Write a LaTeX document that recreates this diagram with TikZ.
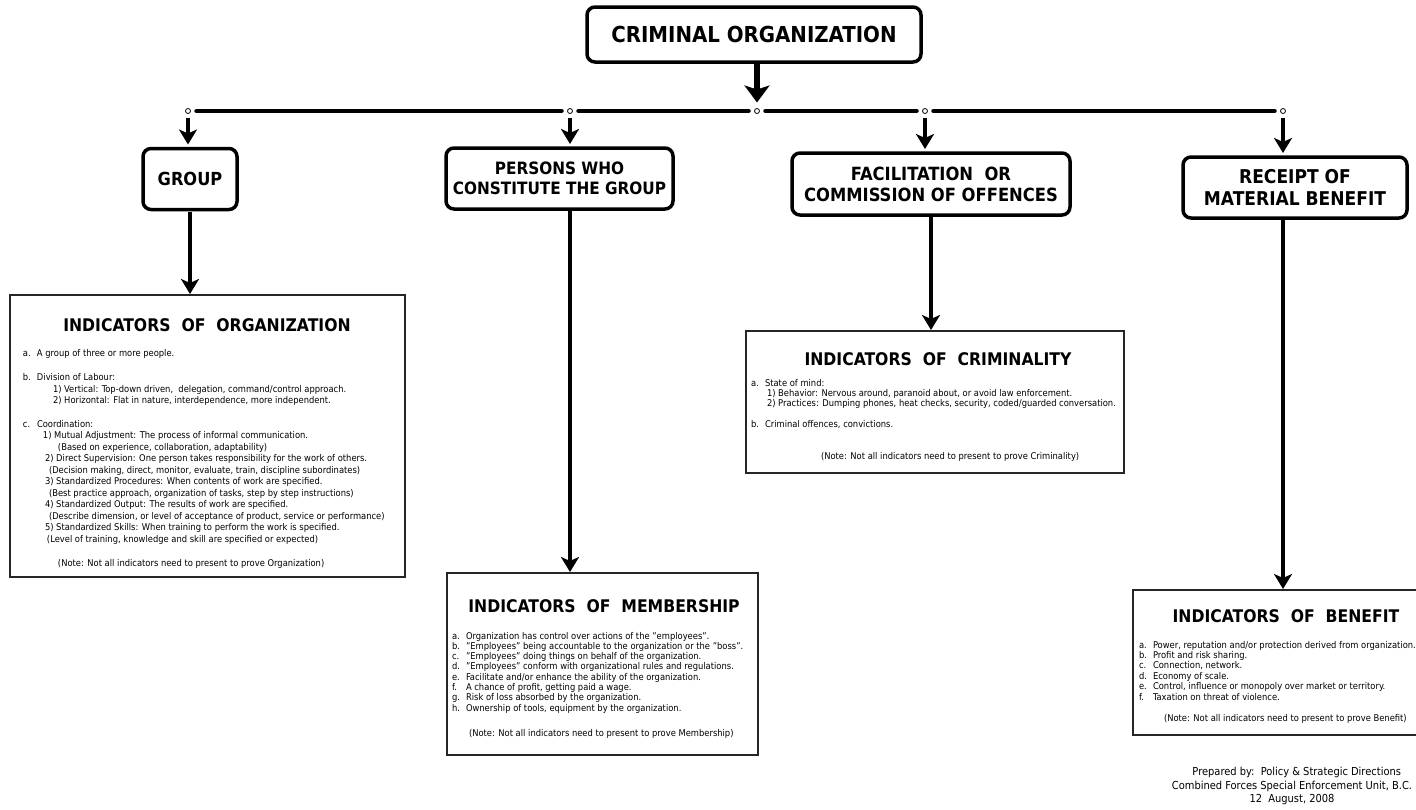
\documentclass[tikz,border=0pt]{standalone}
\usepackage{fontspec}
\setmainfont{DejaVu Sans Condensed}
\usetikzlibrary{arrows.meta}
\newcommand{\lbl}[1]{\makebox[14pt][l]{#1}}
\begin{document}
\begin{tikzpicture}[x=1pt,y=-1pt,
  every node/.style={inner sep=0pt,outer sep=0pt},
  headbox/.style={draw,line width=3.5pt,rounded corners=8pt,align=center,
    font=\fontsize{17.5}{20.5}\selectfont\bfseries},
  indbox/.style={draw=black!85,line width=1.6pt,fill=white},
  indtitle/.style={font=\fontsize{17.4}{19}\selectfont\bfseries},
  indtext/.style={align=left,anchor=north west},
  junction/.style={circle,draw,line width=0.8pt,minimum size=5pt,fill=white},
  bar/.style={line width=4.5pt,line cap=round,shorten <=6pt,shorten >=6pt},
  bigarrow/.style={line width=4.5pt,-{Stealth[width=18pt,length=15pt,inset=4pt]}},
  toparrow/.style={line width=6pt,-{Stealth[width=25pt,length=17pt,inset=4pt]}},
]
\useasboundingbox (0,0) rectangle (1416,809);
\fill[white] (0,0) rectangle (1416,809);

% top box
\node[headbox,font=\fontsize{22}{26}\selectfont\bfseries,minimum width=334pt,minimum height=55pt] (top) at (754,34.5) {CRIMINAL ORGANIZATION};

% junctions
\node[junction] (c1) at (188,111) {};
\node[junction] (c2) at (570,111) {};
\node[junction] (c3) at (757,111) {};
\node[junction] (c4) at (925,111) {};
\node[junction] (c5) at (1283,111) {};

\draw[bar] (c1) -- (c2);
\draw[bar] (c2) -- (c3);
\draw[bar] (c3) -- (c4);
\draw[bar] (c4) -- (c5);

\draw[toparrow,shorten >=6pt] (top.south -| c3) -- (c3);

% second level boxes
\node[headbox,font=\fontsize{18}{21}\selectfont\bfseries,minimum width=94pt,minimum height=61pt] (group) at (190,179) {GROUP};
\node[headbox,font=\fontsize{17}{20}\selectfont\bfseries,minimum width=227pt,minimum height=61pt] (persons) at (559.5,178.5) {PERSONS WHO\\CONSTITUTE THE GROUP};
\node[headbox,font=\fontsize{18.2}{21}\selectfont\bfseries,minimum width=278pt,minimum height=62pt] (facil) at (931,184) {FACILITATION\ \ OR\\COMMISSION OF OFFENCES};
\node[headbox,font=\fontsize{19}{21.5}\selectfont\bfseries,minimum width=224pt,minimum height=61pt] (receipt) at (1295,187.5) {RECEIPT OF\\MATERIAL BENEFIT};

\draw[bigarrow,shorten <=4pt,shorten >=4pt] (c1) -- (c1 |- group.north);
\draw[bigarrow,shorten <=4pt,shorten >=4pt] (c2) -- (c2 |- persons.north);
\draw[bigarrow,shorten <=4pt,shorten >=4pt] (c4) -- (c4 |- facil.north);
\draw[bigarrow,shorten <=4pt,shorten >=4pt] (c5) -- (c5 |- receipt.north);

% indicator boxes
\node[indbox,minimum width=395pt,minimum height=282pt] (iorg) at (207.5,436) {};
\node[indbox,minimum width=311pt,minimum height=182pt] (imem) at (602.5,664) {};
\node[indbox,minimum width=378pt,minimum height=142pt] (icrim) at (935,402) {};
\node[indbox,minimum width=297pt,minimum height=145pt] (iben) at (1281.5,662.5) {};

\draw[bigarrow,shorten <=2pt,shorten >=1pt] (group.south) -- (group.south |- iorg.north);
\draw[bigarrow,shorten <=2pt,shorten >=1pt] (persons.south -| c2) -- (c2 |- imem.north);
\draw[bigarrow,shorten <=2pt,shorten >=1pt] (facil.south) -- (facil.south |- icrim.north);
\draw[bigarrow,shorten <=2pt,shorten >=1pt] (receipt.south -| c5) -- (c5 |- iben.north);

% titles
\node[indtitle] (torg) at (207,325) {INDICATORS\ \ OF\ \ ORGANIZATION};
\node[indtitle] (tmem) at (604,606) {INDICATORS\ \ OF\ \ MEMBERSHIP};
\node[indtitle] (tcrim) at (938,359) {INDICATORS\ \ OF\ \ CRIMINALITY};
\node[indtitle] (tben) at (1286,616) {INDICATORS\ \ OF\ \ BENEFIT};

% texts
\node[indtext,font=\fontsize{9.3}{11.5}\selectfont] (xorg) at (23,349) {%
\lbl{a.}A group of three or more people.\\[13pt]
\lbl{b.}Division of Labour:\\
\hspace*{30pt}1) Vertical: Top-down driven,\ \ delegation, command/control approach.\\
\hspace*{30pt}2) Horizontal: Flat in nature, interdependence, more independent.\\[12pt]
\lbl{c.}Coordination:\\
\hspace*{20pt}1) Mutual Adjustment: The process of informal communication.\\
\hspace*{35pt}(Based on experience, collaboration, adaptability)\\
\hspace*{22pt}2) Direct Supervision: One person takes responsibility for the work of others.\\
\hspace*{26pt}(Decision making, direct, monitor, evaluate, train, discipline subordinates)\\
\hspace*{22pt}3) Standardized Procedures: When contents of work are specified.\\
\hspace*{26pt}(Best practice approach, organization of tasks, step by step instructions)\\
\hspace*{22pt}4) Standardized Output: The results of work are specified.\\
\hspace*{26pt}(Describe dimension, or level of acceptance of product, service or performance)\\
\hspace*{22pt}5) Standardized Skills: When training to perform the work is specified.\\
\hspace*{24pt}(Level of training, knowledge and skill are specified or expected)\\[12.5pt]
\hspace*{35pt}(Note: Not all indicators need to present to prove Organization)};

\node[indtext,font=\fontsize{9.3}{10.3}\selectfont] (xmem) at (452,632) {%
\lbl{a.}Organization has control over actions of the "employees".\\
\lbl{b.}"Employees" being accountable to the organization or the "boss".\\
\lbl{c.}"Employees" doing things on behalf of the organization.\\
\lbl{d.}"Employees" conform with organizational rules and regulations.\\
\lbl{e.}Facilitate and/or enhance the ability of the organization.\\
\lbl{f.}A chance of profit, getting paid a wage.\\
\lbl{g.}Risk of loss absorbed by the organization.\\
\lbl{h.}Ownership of tools, equipment by the organization.\\[15pt]
\hspace*{17pt}(Note: Not all indicators need to present to prove Membership)};

\node[indtext,font=\fontsize{9.3}{10.2}\selectfont] (xcrim) at (751,379) {%
\lbl{a.}State of mind:\\
\hspace*{16pt}1) Behavior: Nervous around, paranoid about, or avoid law enforcement.\\
\hspace*{16pt}2) Practices: Dumping phones, heat checks, security, coded/guarded conversation.\\[11pt]
\lbl{b.}Criminal offences, convictions.\\[22pt]
\hspace*{70pt}(Note: Not all indicators need to present to prove Criminality)};

\node[indtext,font=\fontsize{9.3}{10.4}\selectfont] (xben) at (1139,641) {%
\lbl{a.}Power, reputation and/or protection derived from organization.\\
\lbl{b.}Profit and risk sharing.\\
\lbl{c.}Connection, network.\\
\lbl{d.}Economy of scale.\\
\lbl{e.}Control, influence or monopoly over market or territory.\\
\lbl{f.}Taxation on threat of violence.\\[11pt]
\hspace*{25pt}(Note: Not all indicators need to present to prove Benefit)};

\node[align=center,font=\fontsize{11}{13.5}\selectfont] (credit) at (1292,786) {%
\ \ \ Prepared by:\ \ Policy \& Strategic Directions\\
Combined Forces Special Enforcement Unit, B.C.\\
12\ \ August, 2008};
\end{tikzpicture}
\end{document}
